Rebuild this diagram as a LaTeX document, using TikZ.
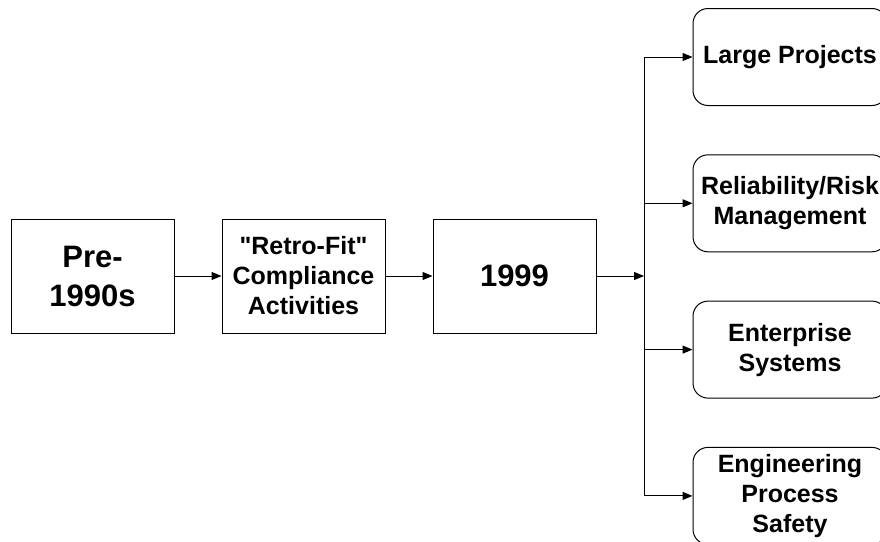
\documentclass[tikz,border=0pt]{standalone}
\usepackage{fontspec}
\setmainfont{Liberation Sans}[Ligatures=TeXOff]
\usetikzlibrary{arrows.meta,positioning}

\begin{document}
\begin{tikzpicture}[->,>={Triangle[length=10pt,width=8pt]},x=1pt,y=-1pt,
                    node distance=211pt,line width=1pt]
  \tikzstyle{stage}=[draw=black,fill=white,minimum width=163pt,minimum height=114pt,inner sep=2pt,
                     align=center,font=\bfseries\fontsize{25}{30}\selectfont]
  \tikzstyle{bigtext}=[font=\bfseries\fontsize{31}{39}\selectfont]
  \tikzstyle{branch}=[stage,rounded corners=15pt,minimum width=194pt,minimum height=97pt]

  \useasboundingbox (0,0) rectangle (880,541);

  \node[stage,bigtext] (pre) at (92.5,276) {Pre-\\1990s};
  \node[stage]         (retro) [right of=pre]   {"Retro-Fit"\\Compliance\\Activities};
  \node[stage,bigtext] (yr)    [right of=retro] {1999};
  \coordinate (fork) at (644,276);

  \node[branch] (large) at (790,57) {Large Projects};
  \node[branch] (risk) [below of=large,node distance=146.3pt] {Reliability/Risk\\Management};
  \node[branch] (ent)  [below of=risk,node distance=146.3pt]  {Enterprise\\Systems};
  \node[branch] (eng)  [below of=ent,node distance=146.3pt]   {Engineering\\Process\\Safety};

  \path (pre)   edge (retro)
        (retro) edge (yr)
        (yr)    edge (fork);
  \draw[-] (fork |- large) -- (fork |- eng);
  \foreach \b in {large,risk,ent,eng}
    \draw (fork |- \b) -- (\b);
\end{tikzpicture}
\end{document}
